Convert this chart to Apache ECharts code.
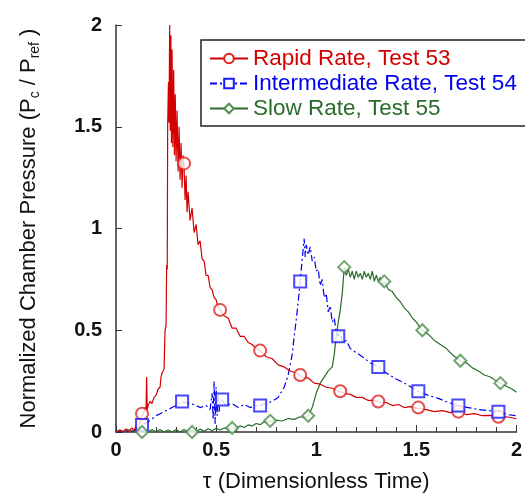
<!DOCTYPE html>
<html>
<head>
<meta charset="utf-8">
<script src="https://cdn.jsdelivr.net/npm/echarts@6/dist/echarts.min.js"></script>
<style>
  html, body { margin: 0; padding: 0; background: #fff; }
  #chart { width: 525px; height: 498px; }
</style>
</head>
<body>
<div id="chart"></div>
<script>
// pressure traces: [tau, Pc/Pref]
const rapidLine = [
  [0.00,0.00],[0.02,0.01],[0.03,0.00],[0.05,0.015],[0.06,0.00],[0.08,0.02],[0.09,0.005],[0.10,0.03],
  [0.11,0.015],[0.12,0.05],[0.13,0.08],[0.14,0.10],[0.145,0.12],[0.15,0.11],[0.153,0.27],[0.156,0.11],
  [0.16,0.13],[0.17,0.15],[0.18,0.14],[0.19,0.17],[0.20,0.18],[0.21,0.21],[0.22,0.22],[0.225,0.27],
  [0.23,0.29],[0.24,0.31],[0.245,0.50],[0.25,0.52],[0.253,0.82],[0.256,0.80],[0.258,1.50],[0.262,1.72],
  [0.265,1.52],[0.268,2.00],[0.271,1.48],[0.274,1.95],[0.277,1.42],[0.28,1.88],[0.284,1.40],[0.288,1.78],
  [0.292,1.36],[0.296,1.66],[0.30,1.33],[0.305,1.58],[0.31,1.28],[0.315,1.50],[0.32,1.24],[0.325,1.42],
  [0.33,1.20],[0.335,1.36],[0.34,1.30],[0.345,1.14],[0.35,1.26],[0.355,1.08],[0.36,1.18],[0.37,1.04],
  [0.38,1.10],[0.39,0.98],[0.40,1.02],[0.41,0.92],[0.42,0.94],[0.43,0.85],[0.44,0.84],[0.45,0.77],
  [0.46,0.77],[0.47,0.71],[0.48,0.70],[0.49,0.66],[0.50,0.65],[0.51,0.61],[0.52,0.60],[0.54,0.57],
  [0.56,0.56],[0.58,0.51],[0.60,0.51],[0.62,0.47],[0.64,0.47],[0.66,0.44],[0.68,0.43],[0.70,0.41],
  [0.72,0.40],[0.75,0.37],[0.78,0.36],[0.81,0.33],[0.84,0.32],[0.87,0.30],[0.90,0.29],[0.93,0.27],
  [0.96,0.265],[0.99,0.24],[1.02,0.235],[1.05,0.22],[1.08,0.215],[1.11,0.20],[1.14,0.19],[1.17,0.185],
  [1.20,0.17],[1.23,0.17],[1.26,0.155],[1.29,0.155],[1.32,0.145],[1.35,0.145],[1.38,0.13],[1.41,0.135],
  [1.44,0.12],[1.47,0.125],[1.51,0.115],[1.55,0.11],[1.59,0.10],[1.63,0.105],[1.67,0.095],[1.71,0.10],
  [1.75,0.085],[1.79,0.09],[1.83,0.08],[1.87,0.082],[1.91,0.072],[1.95,0.075],[2.00,0.065]
];
const intermediateLine = [
  [0.00,0.00],[0.04,0.00],[0.08,0.005],[0.10,0.01],[0.12,0.025],[0.14,0.04],[0.16,0.05],[0.18,0.065],
  [0.20,0.08],[0.22,0.09],[0.24,0.10],[0.26,0.11],[0.28,0.12],[0.30,0.13],[0.33,0.15],[0.36,0.14],
  [0.39,0.135],[0.42,0.12],[0.45,0.13],[0.47,0.11],[0.48,0.19],[0.485,0.06],[0.49,0.25],[0.495,0.04],
  [0.50,0.22],[0.505,0.08],[0.51,0.18],[0.515,0.10],[0.52,0.16],[0.53,0.155],[0.55,0.13],[0.58,0.14],
  [0.61,0.12],[0.64,0.135],[0.67,0.12],[0.70,0.13],[0.72,0.13],[0.75,0.14],[0.78,0.15],[0.81,0.17],
  [0.84,0.22],[0.86,0.28],[0.88,0.38],[0.89,0.47],[0.90,0.55],[0.91,0.64],[0.92,0.74],[0.93,0.85],
  [0.94,0.95],[0.945,0.86],[0.95,0.92],[0.96,0.87],[0.97,0.91],[0.98,0.84],[0.99,0.86],[1.00,0.79],
  [1.01,0.80],[1.02,0.72],[1.03,0.75],[1.04,0.66],[1.05,0.68],[1.06,0.59],[1.07,0.62],[1.08,0.54],
  [1.09,0.56],[1.10,0.49],[1.11,0.47],[1.12,0.50],[1.13,0.44],[1.15,0.45],[1.17,0.41],[1.20,0.39],
  [1.23,0.37],[1.27,0.34],[1.31,0.32],[1.35,0.29],[1.40,0.26],[1.45,0.235],[1.51,0.20],[1.56,0.18],
  [1.61,0.165],[1.66,0.145],[1.71,0.13],[1.76,0.12],[1.81,0.11],[1.86,0.105],[1.91,0.10],[1.96,0.085],
  [2.00,0.08]
];
const slowLine = [
  [0.00,0.00],[0.02,0.01],[0.04,0.00],[0.06,0.012],[0.08,0.00],[0.10,0.012],[0.12,0.00],[0.14,0.01],
  [0.16,0.00],[0.18,0.012],[0.20,0.00],[0.22,0.012],[0.24,0.00],[0.26,0.01],[0.28,0.00],[0.30,0.012],
  [0.32,0.00],[0.34,0.012],[0.36,0.002],[0.38,0.01],[0.40,0.002],[0.42,0.014],[0.44,0.004],[0.46,0.016],
  [0.48,0.006],[0.50,0.018],[0.52,0.01],[0.54,0.02],[0.56,0.012],[0.58,0.022],[0.60,0.018],[0.62,0.03],
  [0.64,0.022],[0.66,0.035],[0.68,0.03],[0.70,0.042],[0.72,0.036],[0.74,0.05],[0.77,0.052],[0.80,0.058],
  [0.83,0.054],[0.86,0.066],[0.89,0.062],[0.92,0.075],[0.94,0.07],[0.96,0.08],[0.98,0.12],[1.00,0.19],
  [1.02,0.24],[1.04,0.27],[1.06,0.30],[1.08,0.32],[1.09,0.38],[1.10,0.47],[1.11,0.54],[1.12,0.60],
  [1.13,0.68],[1.14,0.81],[1.15,0.77],[1.16,0.80],[1.17,0.76],[1.18,0.79],[1.19,0.75],[1.20,0.79],
  [1.21,0.76],[1.22,0.78],[1.23,0.75],[1.24,0.79],[1.25,0.76],[1.26,0.78],[1.27,0.75],[1.28,0.79],
  [1.29,0.74],[1.30,0.77],[1.31,0.74],[1.32,0.76],[1.33,0.72],[1.34,0.74],[1.36,0.70],[1.38,0.69],
  [1.40,0.66],[1.42,0.64],[1.44,0.61],[1.46,0.59],[1.48,0.56],[1.50,0.54],[1.53,0.50],[1.56,0.48],
  [1.59,0.45],[1.62,0.43],[1.65,0.41],[1.68,0.38],[1.72,0.35],[1.75,0.34],[1.78,0.315],[1.81,0.30],
  [1.84,0.28],[1.87,0.27],[1.90,0.25],[1.92,0.24],[1.95,0.225],[1.98,0.21],[2.00,0.195]
];

// marker positions
const rapidMarks = [[0.13,0.09],[0.34,1.32],[0.52,0.60],[0.72,0.40],[0.92,0.28],[1.12,0.20],[1.31,0.15],[1.51,0.12],[1.71,0.10],[1.91,0.075]];
const intermediateMarks = [[0.13,0.035],[0.33,0.15],[0.53,0.16],[0.72,0.13],[0.92,0.74],[1.11,0.47],[1.31,0.32],[1.51,0.20],[1.71,0.13],[1.91,0.10]];
const slowMarks = [[0.13,0.0],[0.38,0.0],[0.58,0.02],[0.77,0.055],[0.96,0.08],[1.14,0.81],[1.34,0.74],[1.53,0.50],[1.72,0.35],[1.92,0.24]];

const names = ["Rapid Rate, Test 53", "Intermediate Rate, Test 54", "Slow Rate, Test 55"];
const colors = ["#d40000", "#0000f0", "#2b6b2b"];
const markColors = ["#e02020", "#1a1aff", "#4f8f4f"];

const font = 'Arial, "Liberation Sans", sans-serif';

const chart = echarts.init(document.getElementById("chart"));

const lines = [rapidLine, intermediateLine, slowLine];
const marks = [rapidMarks, intermediateMarks, slowMarks];
const symbols = ["emptyCircle", "emptyRect", "emptyDiamond"];
const dashes = ["solid", [7, 3, 2, 3], "solid"];

const series = [];
lines.forEach((d, i) => {
  series.push({
    name: names[i],
    type: "line",
    data: d,
    symbol: symbols[i],
    symbolSize: 12,
    showSymbol: false,
    animation: false,
    lineStyle: { color: colors[i], width: 1.2, type: dashes[i] },
    itemStyle: { color: markColors[i], borderWidth: 1.2 },
    z: 3 - i
  });
});
marks.forEach((d, i) => {
  series.push({
    name: names[i],
    type: "scatter",
    data: d,
    symbol: symbols[i],
    symbolSize: 12,
    clip: false,
    animation: false,
    itemStyle: { color: markColors[i], borderWidth: 1.2 },
    z: 4
  });
});

const option = {
  backgroundColor: "#fff",
  textStyle: { fontFamily: font },
  grid: { left: 116, right: 3, top: 25, bottom: 65, containLabel: false },
  legend: {
    orient: "vertical",
    left: 201,
    top: 40,
    itemWidth: 38,
    itemHeight: 12,
    itemGap: 2,
    padding: [7, 30, 6, 8],
    borderColor: "#222",
    borderWidth: 1.5,
    backgroundColor: "#fff",
    textStyle: { fontSize: 22.5, fontFamily: font },
    data: names.map((n, i) => ({ name: n, textStyle: { color: colors[i] } }))
  },
  xAxis: {
    type: "value",
    min: 0,
    max: 2,
    interval: 0.5,
    name: "τ (Dimensionless Time)",
    nameLocation: "middle",
    nameGap: 39,
    nameTextStyle: { fontSize: 22, color: "#111", fontFamily: font },
    axisLine: { show: true, lineStyle: { color: "#333", width: 1.5 } },
    axisTick: { show: true, inside: true, length: 7, lineStyle: { color: "#333" } },
    minorTick: { show: true, splitNumber: 5, length: 5, lineStyle: { color: "#333" } },
    splitLine: { show: false },
    axisLabel: { fontSize: 20, fontWeight: "bold", color: "#111", margin: 8, fontFamily: font }
  },
  yAxis: {
    type: "value",
    min: 0,
    max: 2,
    interval: 0.5,
    name: "Normalized Chamber Pressure (P{sub|c} / P{sub|ref} )",
    nameLocation: "middle",
    nameRotate: 90,
    nameGap: 74,
    nameTextStyle: {
      fontSize: 22,
      color: "#111",
      fontFamily: font,
      rich: {
        sub: { fontSize: 14, fontFamily: font, color: "#111", verticalAlign: "top", padding: [13, 0, 0, 0] }
      }
    },
    axisLine: { show: true, lineStyle: { color: "#333", width: 1.5 } },
    axisTick: { show: true, inside: true, length: 6, lineStyle: { color: "#333" } },
    splitLine: { show: false },
    axisLabel: {
      fontSize: 20,
      fontWeight: "bold",
      color: "#111",
      margin: 14,
      fontFamily: font,
      formatter: (v) => String(v)
    }
  },
  series: series
};

chart.setOption(option);
window.addEventListener("resize", () => {
  chart.resize();
});
</script>
</body>
</html>
